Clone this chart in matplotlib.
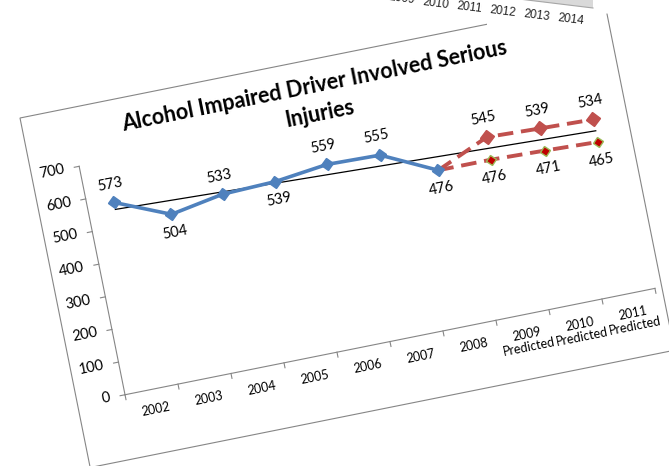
import numpy as np
import matplotlib
matplotlib.use("Agg")
import matplotlib.pyplot as plt
from matplotlib.markers import MarkerStyle
from matplotlib.patches import Rectangle, Polygon
from matplotlib.transforms import Affine2D

# ---- data ---------------------------------------------------------------
categories = ["2002", "2003", "2004", "2005", "2006", "2007", "2008",
              "2009\nPredicted", "2010\nPredicted", "2011\nPredicted"]
injuries = [573, 504, 533, 539, 559, 555, 476]        # 2002 - 2008
label_side = [1, -1, 1, -1, 1, 1, -1]                  # value label above (+1) / below (-1)
pred_high = [476, 545, 539, 534]                       # 2008 - 2011 predicted
pred_low = [476, 476, 471, 465]                        # 2008 - 2011 predicted
y_ticks = list(range(0, 701, 100))
back_years = ["2009", "2010", "2011", "2012", "2013", "2014"]   # other chart peeking in at the top

# ---- page geometry (the whole chart is a tilted screenshot) --------------
W, H, DPI = 669, 466, 100
ANGLE = 11.35                       # counter-clockwise tilt
FX, FY = 20, H - 118                # top-left corner of the chart frame (display px)
FW, FH = 596, 356.5                 # chart frame size (px)
PU0, PU1, PV0, PV1 = 48.5, 589, 59, 292   # plot area inside the frame (px from top-left)

BLUE = "#4F81BD"
RED = "#C0504D"
GREY = "#868686"
FONT = "Lato"

fig = plt.figure(figsize=(W / DPI, H / DPI), dpi=DPI)
rot = Affine2D().rotate_deg_around(FX, FY, ANGLE)
frame_tr = Affine2D().scale(1, -1).translate(FX, FY) + rot   # frame px (u right, v down) -> display
img_tr = Affine2D().scale(1, -1).translate(0, H)              # image px -> display

ax = fig.add_axes([(FX + PU0) / W, (FY - PV1) / H, (PU1 - PU0) / W, (PV1 - PV0) / H])
ax.set_xlim(0, len(categories))
ax.set_ylim(0, 700)
ax.set_autoscale_on(False)
ax.axis("off")
tr = ax.transData + rot

px_val = (PV1 - PV0) / 700.0          # px per value unit
px_cat = (PU1 - PU0) / len(categories)

# chart frame
ax.add_patch(Rectangle((0, 0), FW, FH, transform=frame_tr, fc="white",
                       ec=GREY, lw=0.8, clip_on=False, zorder=0))

# axes lines and tick marks
ax.plot([0, 0], [0, 700], transform=tr, color=GREY, lw=0.8, clip_on=False, zorder=1)
ax.plot([0, len(categories)], [0, 0], transform=tr, color=GREY, lw=0.8, clip_on=False, zorder=1)
for t in y_ticks:
    ax.plot([-5 / px_cat, 0], [t, t], transform=tr, color=GREY, lw=0.8, clip_on=False, zorder=1)
    ax.text(-15 / px_cat, t, str(t), transform=tr, ha="right", va="center",
            rotation=ANGLE, rotation_mode="anchor", fontsize=10.5, family=FONT)
for i in range(len(categories) + 1):
    ax.plot([i, i], [0, -5 / px_val], transform=tr, color=GREY, lw=0.8, clip_on=False, zorder=1)
for i, lab in enumerate(categories):
    ax.text(i + 0.5, -14 / px_val, lab, transform=tr, ha="center", va="top",
            rotation=ANGLE, rotation_mode="anchor", fontsize=9, family=FONT,
            linespacing=1.1)

# title
ax.text(295, 33, "Alcohol Impaired Driver Involved Serious", transform=frame_tr,
        ha="center", va="baseline", rotation=ANGLE, rotation_mode="anchor",
        fontsize=15.5, fontweight="bold", family=FONT)
ax.text(295, 61, "Injuries", transform=frame_tr,
        ha="center", va="baseline", rotation=ANGLE, rotation_mode="anchor",
        fontsize=15.5, fontweight="bold", family=FONT)

# series
diamond = MarkerStyle("D", transform=Affine2D().rotate_deg(ANGLE))
x_act = np.arange(len(injuries)) + 0.5
x_pred = np.arange(len(injuries) - 1, len(categories)) + 0.5

coef = np.polyfit(x_act, injuries, 1)
x_trend = np.array([x_act[0], x_pred[-1]])
ax.plot(x_trend, np.polyval(coef, x_trend), transform=tr, color="black",
        lw=0.9, clip_on=False, zorder=2)

ax.plot(x_pred, pred_high, transform=tr, color=RED, lw=2.8, ls=(0, (4, 2)),
        marker=diamond, ms=7.5, mfc=RED, mec=RED, markevery=slice(1, None),
        clip_on=False, zorder=3)
ax.plot(x_pred, pred_low, transform=tr, color=RED, lw=2.8, ls=(0, (4, 2)),
        marker=diamond, ms=5.4, mfc="#C00000", mec="#9BBB59", mew=1,
        markevery=slice(1, None), clip_on=False, zorder=3)
ax.plot(x_act, injuries, transform=tr, color=BLUE, lw=2.6, marker=diamond,
        ms=5.9, mfc=BLUE, mec=BLUE, clip_on=False, zorder=4)

off = 18.5 / px_val
for x, v, s in zip(x_act, injuries, label_side):
    ax.text(x, v + s * off, str(v), transform=tr, ha="center", va="center",
            rotation=ANGLE, rotation_mode="anchor", fontsize=10.5, family=FONT)
for x, v in zip(x_pred[1:], pred_high[1:]):
    ax.text(x, v + off, str(v), transform=tr, ha="center", va="center",
            rotation=ANGLE, rotation_mode="anchor", fontsize=10.5, family=FONT)
for x, v in zip(x_pred[1:], pred_low[1:]):
    ax.text(x, v - off, str(v), transform=tr, ha="center", va="center",
            rotation=ANGLE, rotation_mode="anchor", fontsize=10.5, family=FONT)

# second chart overlapping the top right corner
ax.add_patch(Polygon([(487, -2), (487, 27), (612, 13), (669, 7), (669, -2)],
                     transform=img_tr, fc="white", ec="none", clip_on=False, zorder=5))
ax.add_patch(Polygon([(523, -2), (593, -2), (593, 8), (523, -0.5)],
                     transform=img_tr, fc="#D9D9D9", ec="none", clip_on=False, zorder=5))
ax.plot([523, 593], [-0.5, 8], transform=img_tr, color="#A6A6A6", lw=0.8,
        clip_on=False, zorder=6)
back_tr = Affine2D().rotate_deg(-7.1).translate(402, H + 1)
for i, yr in enumerate(back_years):
    ax.text(i * 34, 0, yr, transform=back_tr, ha="center", va="center",
            rotation=-7.1, rotation_mode="anchor", fontsize=8.5,
            family="Liberation Sans", color="#222222", zorder=6)

fig.savefig("out.png", dpi=DPI)
